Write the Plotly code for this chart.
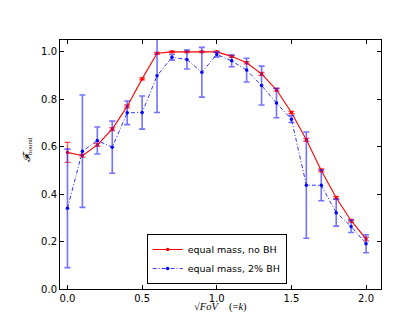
import plotly.graph_objects as go

x_vals = [0.0, 0.1, 0.2, 0.3, 0.4, 0.5, 0.6, 0.7, 0.8, 0.9, 1.0,
          1.1, 1.2, 1.3, 1.4, 1.5, 1.6, 1.7, 1.8, 1.9, 2.0]

no_bh = [0.576, 0.562, 0.608, 0.674, 0.770, 0.886, 0.994, 1.0, 1.0, 1.0, 1.0,
         0.981, 0.954, 0.907, 0.840, 0.744, 0.629, 0.500, 0.385, 0.288, 0.211]
no_bh_err = [0.042, 0.006, 0.006, 0.006, 0.006, 0.004, 0.004, 0.003, 0.003, 0.003, 0.003,
             0.004, 0.005, 0.006, 0.006, 0.005, 0.006, 0.006, 0.006, 0.006, 0.008]

bh2 = [0.340, 0.581, 0.626, 0.598, 0.743, 0.744, 0.899, 0.977, 0.968, 0.914, 0.989,
       0.962, 0.923, 0.858, 0.784, 0.716, 0.438, 0.437, 0.322, 0.264, 0.191]
bh2_err = [0.250, 0.237, 0.057, 0.110, 0.050, 0.070, 0.155, 0.012, 0.040, 0.105, 0.010,
           0.025, 0.050, 0.082, 0.062, 0.014, 0.224, 0.065, 0.057, 0.026, 0.038]

legend_names = ["equal mass, no BH", "equal mass, 2% BH"]

fig = go.Figure()
fig.add_trace(go.Scatter(
    x=x_vals, y=no_bh, name=legend_names[0], mode="lines+markers",
    line=dict(color="red", width=1.1),
    marker=dict(color="red", size=3.5, symbol="circle"),
    error_y=dict(type="data", array=no_bh_err, color="rgba(255,0,0,0.7)",
                 thickness=1.3, width=3),
))
fig.add_trace(go.Scatter(
    x=x_vals, y=bh2, name=legend_names[1], mode="lines+markers",
    line=dict(color="rgba(0,0,255,0.8)", width=1.0, dash="4px,2px,1px,2px"),
    marker=dict(color="blue", size=3.5, symbol="circle"),
    error_y=dict(type="data", array=bh2_err, color="rgba(40,40,255,0.65)",
                 thickness=1.6, width=3),
))

axis_common = dict(
    showline=True, linecolor="black", linewidth=1, mirror="ticks",
    ticks="inside", ticklen=4, tickcolor="black", showgrid=False, zeroline=False,
    tickfont=dict(family="DejaVu Sans", size=10, color="black"),
)

fig.update_layout(
    width=415, height=312,
    margin=dict(l=52, r=42, t=32, b=31),
    paper_bgcolor="white", plot_bgcolor="white",
    xaxis=dict(range=[-0.05, 2.1], tickvals=[0.0, 0.5, 1.0, 1.5, 2.0],
               ticktext=["0.0", "0.5", "1.0", "1.5", "2.0"], **axis_common),
    yaxis=dict(range=[0.0, 1.05], tickvals=[0.0, 0.2, 0.4, 0.6, 0.8, 1.0],
               ticktext=["0.0", "0.2", "0.4", "0.6", "0.8", "1.0"], **axis_common),
    showlegend=True,
    legend=dict(x=0.27, y=0.02, xanchor="left", yanchor="bottom",
                bgcolor="white", bordercolor="black", borderwidth=1,
                font=dict(family="DejaVu Sans", size=9.5, color="black"),
                tracegroupgap=0, itemwidth=30),
    annotations=[
        dict(text="√<i>FoV</i>", xref="paper", yref="paper",
             x=0.455, y=-0.04, xanchor="center", yanchor="top", showarrow=False,
             font=dict(family="Liberation Serif", size=10.5, color="black")),
        dict(text="(=<i>k</i>)", xref="paper", yref="paper",
             x=0.555, y=-0.04, xanchor="center", yanchor="top", showarrow=False,
             font=dict(family="Liberation Serif", size=10.5, color="black")),
        dict(text="<i>𝓕</i><sub>bound</sub>", xref="paper", yref="paper",
             x=-0.075, y=0.56, xanchor="right", yanchor="middle", showarrow=False,
             textangle=-90,
             font=dict(family="Liberation Serif", size=10, color="black")),
    ],
)

fig.write_html("out.html")
